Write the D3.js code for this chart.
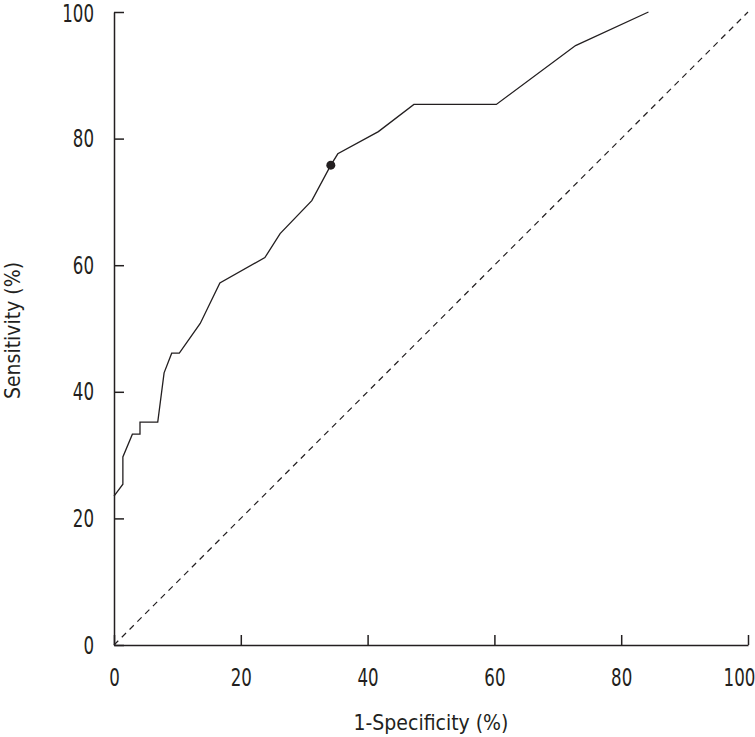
<!DOCTYPE html>
<html>
<head>
<meta charset="utf-8">
<script src="https://cdn.jsdelivr.net/npm/d3@7"></script>
<style>
  body { margin: 0; background: #fff; }
  svg { display: block; }
  text { font-family: "Liberation Sans Narrow", "DejaVu Sans Condensed", "Arial Narrow", sans-serif; fill: #231f20; }
</style>
</head>
<body>
<div id="chart"></div>
<script>
// ROC curve (1-specificity %, sensitivity %)
const fpr = [0, 0.5, 1.4, 1.4, 2.9, 4.1, 4.1, 6.9, 7.9, 9.1, 10.3, 13.6, 16.7, 23.8, 26.2, 31.2, 34.2, 35.3, 41.7, 47.3, 60.3, 72.8, 84.3];
const tpr = [23.5, 24.2, 25.4, 29.7, 33.3, 33.3, 35.2, 35.2, 43.0, 46.1, 46.1, 50.8, 57.2, 61.2, 65.0, 70.2, 75.8, 77.6, 81.1, 85.4, 85.4, 94.7, 100];
const cutoff = [34.2, 75.8];
const reference = [[0, 0], [100, 100]];
const xTicks = [0, 20, 40, 60, 80, 100];
const yTicks = [0, 20, 40, 60, 80, 100];

const W = 755, H = 737;
const margin = { top: 12, right: 7, bottom: 92, left: 114 };
const width = W - margin.left - margin.right;
const height = H - margin.top - margin.bottom;
const ink = "#231f20";
const squeeze = 0.74; // the source font is much narrower than what we have

const svg = d3.select("#chart").append("svg")
    .attr("width", W)
    .attr("height", H);

const g = svg.append("g")
    .attr("transform", `translate(${margin.left},${margin.top})`);

const x = d3.scaleLinear().domain([0, 100]).range([0, width]);
const y = d3.scaleLinear().domain([0, 100]).range([height, 0]);

// axes, ticks pointing inward
const xAxis = g.append("g")
    .attr("transform", `translate(0,${height})`)
    .call(d3.axisBottom(x).tickValues(xTicks).tickSizeInner(-10).tickSizeOuter(0).tickPadding(23));

const yAxis = g.append("g")
    .call(d3.axisLeft(y).tickValues(yTicks).tickSizeInner(-10).tickSizeOuter(0));

[xAxis, yAxis].forEach(ax => {
    ax.select(".domain").attr("stroke", ink).attr("stroke-width", 1.5);
    ax.selectAll(".tick line").attr("stroke", ink).attr("stroke-width", 1.5);
    ax.selectAll(".tick text")
        .attr("font-size", 25)
        .attr("fill", ink);
});

xAxis.selectAll(".tick text")
    .attr("transform", d => `translate(${d === 100 ? -9 : 0},0) scale(${squeeze},1)`);

yAxis.selectAll(".tick text")
    .attr("x", 0)
    .attr("transform", d => `translate(-20,${d === 100 ? 1 : 0}) scale(${squeeze},1)`);

// chance line
g.append("path")
    .datum(reference)
    .attr("fill", "none")
    .attr("stroke", ink)
    .attr("stroke-width", 1.2)
    .attr("stroke-dasharray", "6,5")
    .attr("d", d3.line().x(d => x(d[0])).y(d => y(d[1])));

// ROC curve
const pts = fpr.map((v, i) => ({ x: v, y: tpr[i] }));
g.append("path")
    .datum(pts)
    .attr("fill", "none")
    .attr("stroke", ink)
    .attr("stroke-width", 1.3)
    .attr("d", d3.line().x(d => x(d.x)).y(d => y(d.y)));

g.append("circle")
    .attr("cx", x(cutoff[0]))
    .attr("cy", y(cutoff[1]))
    .attr("r", 4.5)
    .attr("fill", ink);

// axis titles
svg.append("text")
    .attr("x", margin.left + width / 2)
    .attr("y", 730)
    .attr("text-anchor", "middle")
    .attr("font-size", 21)
    .text("1-Specificity (%)");

svg.append("text")
    .attr("transform", `translate(20,${margin.top + height / 2 + 2}) rotate(-90)`)
    .attr("text-anchor", "middle")
    .attr("font-size", 21)
    .text("Sensitivity (%)");
</script>
</body>
</html>
